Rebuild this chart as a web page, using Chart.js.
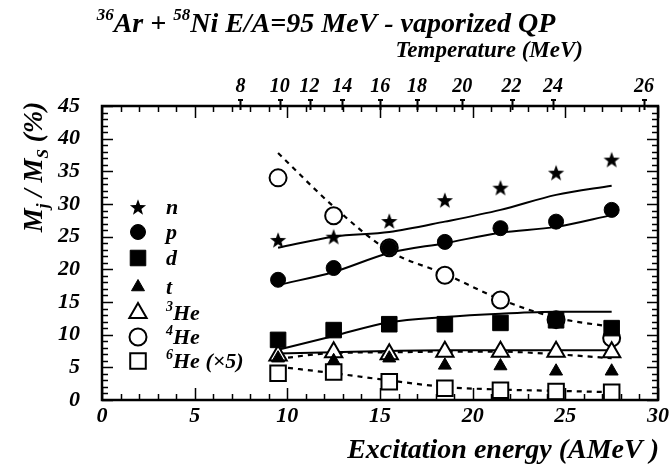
<!DOCTYPE html>
<html>
<head>
<meta charset="utf-8">
<script src="https://cdn.jsdelivr.net/npm/chart.js@4/dist/chart.umd.min.js"></script>
<style>
  body { margin: 0; background: #fff; }
  #wrap { width: 672px; height: 467px; }
</style>
</head>
<body>
<div id="wrap"><canvas id="chart"></canvas></div>
<script>
// excitation energy of each bin (AMeV)
const energies = [9.5, 12.5, 15.5, 18.5, 21.5, 24.5, 27.5];

// measured multiplicity ratios (%)
const nVals   = [24.5, 25.0, 27.4, 30.6, 32.5, 34.8, 36.8];
const pVals   = [18.4, 20.2, 23.3, 24.2, 26.3, 27.3, 29.1];
const dVals   = [9.2, 10.7, 11.6, 11.6, 11.8, 12.2, 11.0];
const tVals   = [6.4, 6.0, 6.4, 5.3, 5.2, 4.4, 4.4];
const he3Vals = [6.8, 7.3, 7.0, 7.4, 7.4, 7.4, 7.3];
const he4Vals = [34.0, 28.2, 23.3, 19.1, 15.3, 12.3, 9.5];
const he6Vals = [4.1, 4.3, 2.8, 1.8, 1.5, 1.3, 1.2];

// model curves
const nFit    = [23.3, 25.0, 25.7, 27.3, 29.1, 31.4, 32.8];
const pFit    = [17.6, 19.6, 22.5, 24.0, 25.6, 26.5, 28.3];
const dFit    = [7.7, 9.8, 11.9, 12.7, 13.2, 13.5, 13.5];
const he3Fit  = [7.1, 7.3, 7.5, 7.6, 7.6, 7.6, 7.6];
const he3Dash = [6.3, 7.2, 7.3, 7.4, 7.4, 7.0, 6.4];
const he4Dash = [37.8, 29.6, 22.8, 19.3, 15.4, 12.6, 11.2];
const he6Dash = [5.1, 4.1, 3.0, 2.0, 1.6, 1.4, 1.2];

// top axis: temperature ticks placed on the excitation energy scale
const tempPositions = [7.47, 9.59, 11.2, 12.96, 15.02, 17.0, 19.44, 22.1, 24.34, 29.24];
const tempLabels    = ['8', '10', '12', '14', '16', '18', '20', '22', '24', '26'];

const serif = '"Liberation Serif", "DejaVu Serif", serif';
const tickFont = { family: serif, size: 22, style: 'italic', weight: 'bold' };

// filled five point star used as point style
const makeStar = (size) => {
    const c = document.createElement('canvas');
    c.width = size; c.height = size;
    const g = c.getContext('2d');
    const cx = size / 2, cy = size / 2 + 0.8, ro = size / 2 - 0.5, ri = ro * 0.42;
    g.beginPath();
    for (let i = 0; i < 10; i++) {
        const r = i % 2 === 0 ? ro : ri;
        const a = -Math.PI / 2 + i * Math.PI / 5;
        g.lineTo(cx + r * Math.cos(a), cy + r * Math.sin(a));
    }
    g.closePath();
    g.fillStyle = '#000';
    g.fill();
    return c;
};
const starImg = makeStar(18);

const pts = (vals) => energies.map((x, i) => ({ x: x, y: vals[i] }));

const markerSet = (label, vals, style, radius, filled) => ({
    label: label,
    data: pts(vals),
    showLine: false,
    pointStyle: style,
    pointRadius: radius,
    pointBorderWidth: filled ? 1 : 2,
    pointBackgroundColor: filled ? '#000' : '#fff',
    pointBorderColor: '#000',
    order: 1
});

const curveSet = (label, vals, dashed) => ({
    label: label,
    data: pts(vals),
    showLine: true,
    borderColor: '#000',
    borderWidth: dashed ? 2.2 : 2,
    borderDash: dashed ? [5, 5] : [],
    cubicInterpolationMode: 'monotone',
    pointRadius: 0,
    fill: false,
    order: 2
});

const markers = [
    { key: 'n',   ds: markerSet('n', nVals, starImg, 9, true) },
    { key: 'p',   ds: markerSet('p', pVals, 'circle', 7.5, true) },
    { key: 'd',   ds: markerSet('d', dVals, 'rect', 11, true) },
    { key: 't',   ds: markerSet('t', tVals, 'triangle', 7.5, true) },
    { key: '3He', ds: markerSet('3He', he3Vals, 'triangle', 10, false) },
    { key: '4He', ds: markerSet('4He', he4Vals, 'circle', 8.5, false) },
    { key: '6He', ds: markerSet('6He (x5)', he6Vals, 'rect', 11, false) }
];

const legendLabels = [
    [{ t: 'n' }],
    [{ t: 'p' }],
    [{ t: 'd' }],
    [{ t: 't' }],
    [{ t: '3', sup: true }, { t: 'He' }],
    [{ t: '4', sup: true }, { t: 'He' }],
    [{ t: '6', sup: true }, { t: 'He (\u00d75)' }]
];
const legendRows = [207, 232, 258, 287, 313, 337, 361];

// text with superscripts / subscripts
const drawRich = (ctx, parts, x, y, size, align) => {
    const big = `italic bold ${size}px ${serif}`;
    const small = `italic bold ${Math.round(size * 0.62)}px ${serif}`;
    let total = 0;
    parts.forEach(p => {
        ctx.font = (p.sup || p.sub) ? small : big;
        p.w = ctx.measureText(p.t).width;
        total += p.w;
    });
    let cx = align === 'center' ? x - total / 2 : align === 'right' ? x - total : x;
    parts.forEach(p => {
        ctx.font = (p.sup || p.sub) ? small : big;
        const dy = p.sup ? -size * 0.42 : p.sub ? size * 0.22 : 0;
        ctx.fillText(p.t, cx, y + dy);
        cx += p.w;
    });
};

const framePlugin = {
    id: 'frame',
    afterDraw(chart) {
        const ctx = chart.ctx;
        const a = chart.chartArea;
        const xs = chart.scales.x, ys = chart.scales.y;
        ctx.save();
        ctx.strokeStyle = '#000';
        ctx.fillStyle = '#000';

        ctx.lineWidth = 1.5;
        for (let v = 0; v <= 45; v++) {
            const py = Math.round(ys.getPixelForValue(v)) + 0.5;
            const len = v % 5 === 0 ? 11 : 6;
            ctx.beginPath();
            ctx.moveTo(a.left, py); ctx.lineTo(a.left + len, py);
            ctx.moveTo(a.right, py); ctx.lineTo(a.right - len, py);
            ctx.stroke();
        }
        for (let v = 0; v <= 30; v++) {
            const px = Math.round(xs.getPixelForValue(v)) + 0.5;
            const len = v % 5 === 0 ? 12 : 6;
            ctx.beginPath();
            ctx.moveTo(px, a.bottom); ctx.lineTo(px, a.bottom - len);
            ctx.moveTo(px, a.top); ctx.lineTo(px, a.top + len);
            ctx.stroke();
        }
        ctx.lineWidth = 2;
        tempPositions.forEach(v => {
            const px = Math.round(xs.getPixelForValue(v)) + 0.5;
            ctx.beginPath();
            ctx.moveTo(px, a.top + 4); ctx.lineTo(px, a.top - 6);
            ctx.moveTo(px - 2.5, a.top - 6); ctx.lineTo(px + 2.5, a.top - 6);
            ctx.stroke();
        });

        ctx.lineWidth = 2.5;
        ctx.strokeRect(a.left, a.top, a.right - a.left, a.bottom - a.top);

        // legend
        const helpers = Chart.helpers;
        markers.forEach((m, i) => {
            const ds = m.ds;
            ctx.fillStyle = ds.pointBackgroundColor;
            ctx.strokeStyle = '#000';
            ctx.lineWidth = ds.pointBorderWidth;
            helpers.drawPoint(ctx, {
                pointStyle: ds.pointStyle,
                radius: ds.pointRadius,
                rotation: 0,
                borderWidth: ds.pointBorderWidth
            }, 138, legendRows[i]);
            ctx.fillStyle = '#000';
            ctx.textBaseline = 'alphabetic';
            drawRich(ctx, legendLabels[i], 166, legendRows[i] + 7, 22, 'left');
        });

        // title and axis titles
        ctx.fillStyle = '#000';
        drawRich(ctx, [
            { t: '36', sup: true }, { t: 'Ar + ' },
            { t: '58', sup: true }, { t: 'Ni E/A=95 MeV - vaporized QP' }
        ], 326, 32, 28, 'center');
        drawRich(ctx, [{ t: 'Temperature (MeV)' }], 583, 57, 23, 'right');
        drawRich(ctx, [{ t: 'Excitation energy (AMeV )' }], 659, 458, 28, 'right');

        ctx.translate(42, 167);
        ctx.rotate(-Math.PI / 2);
        drawRich(ctx, [
            { t: 'M' }, { t: 'j', sub: true }, { t: ' / M' }, { t: 'S', sub: true }, { t: ' (%)' }
        ], 0, 0, 27, 'center');
        ctx.restore();
    }
};

const datasets = [
    curveSet('n model', nFit, false),
    curveSet('p model', pFit, false),
    curveSet('d model', dFit, false),
    curveSet('3He model', he3Fit, false),
    curveSet('3He model (dashed)', he3Dash, true),
    curveSet('4He model', he4Dash, true),
    curveSet('6He model', he6Dash, true),
    ...markers.map(m => m.ds)
];

new Chart(document.getElementById('chart'), {
    type: 'scatter',
    data: { datasets: datasets },
    options: {
        responsive: true,
        maintainAspectRatio: false,
        animation: false,
        layout: { padding: { left: 0, right: 13, top: 0, bottom: 0 } },
        plugins: {
            legend: { display: false },
            tooltip: { enabled: false }
        },
        scales: {
            x: {
                type: 'linear',
                position: 'bottom',
                min: 0,
                max: 30,
                ticks: { stepSize: 5, color: '#000', font: tickFont, padding: 3, maxRotation: 0 },
                grid: { display: false, drawTicks: false },
                border: { display: false },
                afterFit: s => { s.height = 67; }
            },
            xTop: {
                type: 'linear',
                position: 'top',
                min: 0,
                max: 30,
                afterBuildTicks: s => { s.ticks = tempPositions.map(v => ({ value: v })); },
                ticks: {
                    autoSkip: false,
                    maxRotation: 0,
                    color: '#000',
                    font: { family: serif, size: 20, style: 'italic', weight: 'bold' },
                    padding: 7,
                    callback: (v) => tempLabels[tempPositions.indexOf(v)]
                },
                grid: { display: false, drawTicks: false },
                border: { display: false },
                afterFit: s => { s.height = 106; }
            },
            y: {
                min: 0,
                max: 45,
                ticks: { stepSize: 5, color: '#000', font: tickFont, padding: 22 },
                grid: { display: false, drawTicks: false },
                border: { display: false },
                afterFit: s => { s.width = 102; }
            }
        }
    },
    plugins: [framePlugin]
});
</script>
</body>
</html>
